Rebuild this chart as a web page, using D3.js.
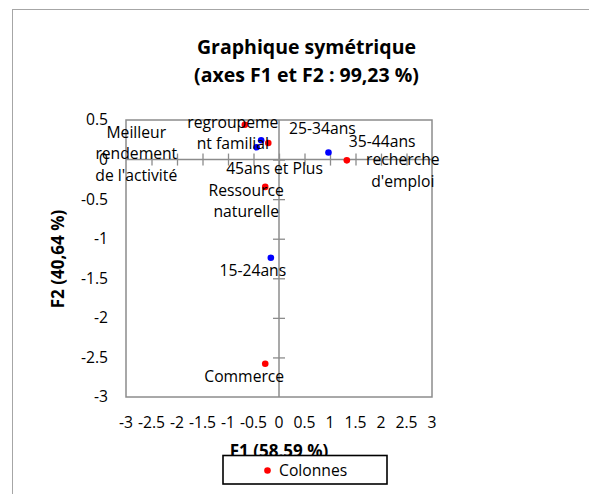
<!DOCTYPE html>
<html><head><meta charset="utf-8">
<script src="https://cdn.jsdelivr.net/npm/d3@7"></script>
<style>
html,body{margin:0;padding:0;background:#fff;}
text{font-family:"Open Sans",sans-serif;}
</style></head>
<body><svg id="c" width="589" height="494"></svg>
<script>
// ---- data ----
const colonnesLabels = ["regroupement familial", "Meilleur rendement de l'activité", "recherche d'emploi", "Ressource naturelle", "Commerce"];
const colonnesF1 = [-0.67, -0.21, 1.33, -0.27, -0.27];
const colonnesF2 = [0.44, 0.21, -0.01, -0.345, -2.58];
const lignesLabels = ["35-44ans", "45ans et Plus", "25-34ans", "15-24ans"];
const lignesF1 = [-0.35, -0.44, 0.97, -0.16];
const lignesF2 = [0.245, 0.155, 0.09, -1.24];
const xTickValues = [-3, -2.5, -2, -1.5, -1, -0.5, 0, 0.5, 1, 1.5, 2, 2.5, 3];
const xTickLabels = ["-3", "-2.5", "-2", "-1.5", "-1", "-0.5", "0", "0.5", "1", "1.5", "2", "2.5", "3"];
const yTickValues = [0.5, 0, -0.5, -1, -1.5, -2, -2.5, -3];
const yTickLabels = ["0.5", "0", "-0.5", "-1", "-1.5", "-2", "-2.5", "-3"];
const titleLines = ["Graphique symétrique", "(axes F1 et F2 : 99,23 %)"];
const xTitle = "F1 (58,59 %)";
const yTitle = "F2 (40,64 %)";
const legendLabel = "Colonnes";

// ---- label layout (pixel offsets from point, wrapped lines) ----
const labelLayout = {
  "regroupement familial": {lines: ["regroupeme", "nt familial"], dx: -12, dy: 3},
  "Meilleur rendement de l'activité": {lines: ["Meilleur", "rendement", "de l'activité"], dx: -132, dy: -5},
  "recherche d'emploi": {lines: ["recherche", "d'emploi"], dx: 56, dy: 5},
  "Ressource naturelle": {lines: ["Ressource", "naturelle"], dx: -19, dy: 9},
  "Commerce": {lines: ["Commerce"], dx: -21, dy: 18},
  "35-44ans": {lines: ["35-44ans"], dx: 121, dy: 7},
  "45ans et Plus": {lines: ["45ans et Plus"], dx: 18, dy: 27},
  "25-34ans": {lines: ["25-34ans"], dx: -6, dy: -18},
  "15-24ans": {lines: ["15-24ans"], dx: -18, dy: 18}
};

const svg = d3.select("#c");
const plot = {left: 126, right: 432, top: 120, bottom: 397};
const x = d3.scaleLinear().domain([-3, 3]).range([plot.left, plot.right]);
const y = d3.scaleLinear().domain([-3, 0.5]).range([plot.bottom, plot.top]);
const fs = 15.7, lineH = 21.5;

// outer frame
svg.append("rect").attr("x", 12.5).attr("y", 9.5).attr("width", 620).attr("height", 520)
  .attr("fill", "none").attr("stroke", "#a6a6a6").attr("stroke-width", 1);

// title
svg.append("g").selectAll("text").data(titleLines).join("text")
  .attr("x", 306.5).attr("y", (d, i) => 54 + i * 27.5)
  .attr("text-anchor", "middle").attr("font-weight", "bold").attr("font-size", 19.5)
  .attr("fill", "#000").text(d => d);

// plot border
svg.append("rect").attr("x", plot.left).attr("y", plot.top)
  .attr("width", plot.right - plot.left).attr("height", plot.bottom - plot.top)
  .attr("fill", "none").attr("stroke", "#8c8c8c").attr("stroke-width", 1.5);

// axes through origin with crossing ticks
const xAxis = d3.axisBottom(x).tickValues(xTickValues.filter(v => v > -3 && v < 3)).tickSize(12).tickFormat("");
const gx = svg.append("g").attr("transform", `translate(0,${y(0) - 6})`).call(xAxis);
gx.select(".domain").remove();
gx.selectAll(".tick line").attr("stroke", "#8c8c8c").attr("stroke-width", 1.3);
svg.append("line").attr("x1", plot.left).attr("x2", plot.right).attr("y1", y(0)).attr("y2", y(0))
  .attr("stroke", "#8c8c8c").attr("stroke-width", 1.5);

const yAxis = d3.axisLeft(y).tickValues(yTickValues.filter(v => v > -3 && v < 0.5)).tickSize(12).tickFormat("");
const gy = svg.append("g").attr("transform", `translate(${x(0) + 6},0)`).call(yAxis);
gy.select(".domain").remove();
gy.selectAll(".tick line").attr("stroke", "#8c8c8c").attr("stroke-width", 1.3);
svg.append("line").attr("x1", x(0)).attr("x2", x(0)).attr("y1", plot.top).attr("y2", plot.bottom)
  .attr("stroke", "#8c8c8c").attr("stroke-width", 1.5);

// tick labels
svg.append("g").selectAll("text").data(xTickValues).join("text")
  .attr("x", d => x(d)).attr("y", 423).attr("dy", "0.35em")
  .attr("text-anchor", "middle").attr("font-size", fs).text((d, i) => xTickLabels[i]);
svg.append("g").selectAll("text").data(yTickValues).join("text")
  .attr("x", 108).attr("y", d => y(d)).attr("dy", "0.35em")
  .attr("text-anchor", "end").attr("font-size", fs).text((d, i) => yTickLabels[i]);

// axis titles
svg.append("text").attr("x", 279).attr("y", 457).attr("text-anchor", "middle")
  .attr("font-weight", "bold").attr("font-size", 17).text(xTitle);
svg.append("text").attr("transform", "translate(64,259) rotate(-90)").attr("text-anchor", "middle")
  .attr("font-weight", "bold").attr("font-size", 17).text(yTitle);

// points
const colonnes = colonnesLabels.map((l, i) => ({label: l, f1: colonnesF1[i], f2: colonnesF2[i], color: "#ff0000"}));
const lignes = lignesLabels.map((l, i) => ({label: l, f1: lignesF1[i], f2: lignesF2[i], color: "#0000ff"}));
const all = colonnes.concat(lignes);

svg.append("g").selectAll("circle").data(all).join("circle")
  .attr("cx", d => x(d.f1)).attr("cy", d => y(d.f2)).attr("r", 3.3).attr("fill", d => d.color);

// labels
const lg = svg.append("g");
all.forEach(d => {
  const L = labelLayout[d.label];
  const t = lg.append("text").attr("text-anchor", "middle").attr("font-size", fs).attr("fill", "#000");
  L.lines.forEach((ln, j) => {
    t.append("tspan").attr("x", x(d.f1) + L.dx).attr("y", y(d.f2) + L.dy + j * lineH).text(ln);
  });
});

// legend
svg.append("rect").attr("x", 223).attr("y", 455.5).attr("width", 164).attr("height", 28.5)
  .attr("fill", "#fff").attr("stroke", "#000").attr("stroke-width", 1.6);
svg.append("circle").attr("cx", 267.5).attr("cy", 470.5).attr("r", 3.3).attr("fill", "#ff0000");
svg.append("text").attr("x", 279).attr("y", 470.5).attr("dy", "0.35em").attr("font-size", fs).text(legendLabel);
</script></body></html>
